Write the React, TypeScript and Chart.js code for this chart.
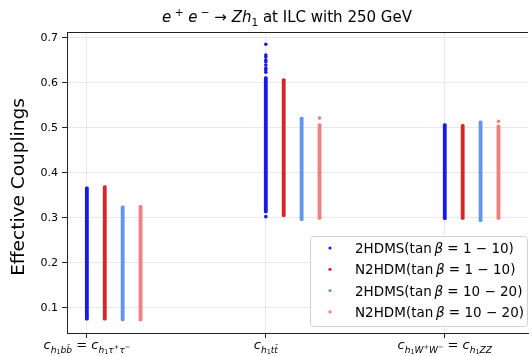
import React, { useEffect, useRef } from "react";
import { Chart, registerables } from "chart.js";

Chart.register(...registerables);

// ---------- data ----------
const categoryPositions = [0, 1, 2];
const seriesLabels = [
  "2HDMS(tanβ=1−10)",
  "N2HDM(tanβ=1−10)",
  "2HDMS(tanβ=10−20)",
  "N2HDM(tanβ=10−20)",
];
const seriesColors = ["#1a1ae6", "#d62728", "#6495ed", "#f08080"];

// vertical extent of each band of points, per category
const s2hdmsLowTan = [0.073, 0.311, 0.296];
const s2hdmsHighTan = [0.369, 0.614, 0.51];
const n2hdmLowTanMin = [0.073, 0.303, 0.297];
const n2hdmLowTanMax = [0.372, 0.61, 0.508];
const s2hdmsHighTanMin = [0.071, 0.294, 0.292];
const s2hdmsHighTanMax = [0.327, 0.524, 0.516];
const n2hdmHighTanMin = [0.071, 0.297, 0.297];
const n2hdmHighTanMax = [0.328, 0.51, 0.507];

// isolated points outside the dense bands: [category, value]
const s2hdmsLowTanIsolated: [number, number][] = [
  [1, 0.686], [1, 0.662], [1, 0.658], [1, 0.651], [1, 0.647],
  [1, 0.64], [1, 0.633], [1, 0.629], [1, 0.624], [1, 0.303],
];
const n2hdmHighTanIsolated: [number, number][] = [
  [1, 0.522], [2, 0.515],
];

const yTicks = [0.1, 0.2, 0.3, 0.4, 0.5, 0.6, 0.7];

// ---------- rich text ----------
type Seg = { t: string; s: number; dy: number; it: boolean };
const M = (t: string): Seg => ({ t, s: 1, dy: 0, it: true });
const R = (t: string): Seg => ({ t, s: 1, dy: 0, it: false });
const SB = (t: string, it = true): Seg => ({ t, s: 0.7, dy: 0.28, it });
const SS = (t: string): Seg => ({ t, s: 0.5, dy: 0.42, it: false });
const SP = (t: string): Seg => ({ t, s: 0.7, dy: -0.4, it: false });
const SBSP = (t: string): Seg => ({ t, s: 0.5, dy: 0.0, it: false });
const SPC = (w: number): Seg => ({ t: "\u2009".repeat(w), s: 1, dy: 0, it: false });

const xTickLabels: Seg[][] = [
  [M("c"), SB("h"), SS("1"), SB("b"), SB("b\u0304"), R(" = "), M("c"), SB("h"), SS("1"), SB("τ"), SBSP("+"), SB("τ"), SBSP("−")],
  [M("c"), SB("h"), SS("1"), SB("t"), SB("t\u0304")],
  [M("c"), SB("h"), SS("1"), SB("W"), SBSP("+"), SB("W"), SBSP("−"), R(" = "), M("c"), SB("h"), SS("1"), SB("Z"), SB("Z")],
];
const titleSegs: Seg[] = [M("e"), SP(" +"), M(" e"), SP(" −"), R(" → "), M("Z"), M("h"), SB("1", false), R(" at ILC with 250 GeV")];
const legendSegs: Seg[][] = [
  [R("2HDMS(tan"), SPC(1), M("β"), R(" = 1 − 10)")],
  [R("N2HDM(tan"), SPC(1), M("β"), R(" = 1 − 10)")],
  [R("2HDMS(tan"), SPC(1), M("β"), R(" = 10 − 20)")],
  [R("N2HDM(tan"), SPC(1), M("β"), R(" = 10 − 20)")],
];

const FONT = '"DejaVu Sans", sans-serif';
const fontOf = (seg: Seg, base: number) => `${seg.it ? "italic " : ""}${seg.s * base}px ${FONT}`;
function richWidth(ctx: CanvasRenderingContext2D, segs: Seg[], base: number) {
  let w = 0;
  for (const s of segs) {
    ctx.font = fontOf(s, base);
    w += ctx.measureText(s.t).width;
  }
  return w;
}
function drawRich(ctx: CanvasRenderingContext2D, segs: Seg[], x: number, y: number, base: number, align: "left" | "center", color: string) {
  const w = richWidth(ctx, segs, base);
  let cx = align === "center" ? x - w / 2 : x;
  ctx.fillStyle = color;
  ctx.textBaseline = "alphabetic";
  ctx.textAlign = "left";
  for (const s of segs) {
    ctx.font = fontOf(s, base);
    ctx.fillText(s.t, cx, y + s.dy * base);
    cx += ctx.measureText(s.t).width;
  }
}

const offsets = [0, 0.1, 0.2, 0.3];

const decorPlugin = {
  id: "decor",
  afterDraw(chart: any) {
    const ctx: CanvasRenderingContext2D = chart.ctx;
    const area = chart.chartArea;
    const xs = chart.scales.x;
    ctx.save();
    // top spine
    ctx.strokeStyle = "#222";
    ctx.lineWidth = 1;
    ctx.beginPath();
    ctx.moveTo(area.left, Math.round(area.top) + 0.5);
    ctx.lineTo(area.right, Math.round(area.top) + 0.5);
    ctx.stroke();
    // title
    drawRich(ctx, titleSegs, 287, 22, 15, "center", "#000");
    // y title
    ctx.save();
    ctx.translate(19, 187);
    ctx.rotate(-Math.PI / 2);
    ctx.font = `18.5px ${FONT}`;
    ctx.fillStyle = "#000";
    ctx.textAlign = "center";
    ctx.textBaseline = "middle";
    ctx.fillText("Effective Couplings", 0, 0);
    ctx.restore();
    // x tick labels
    categoryPositions.forEach((c, i) => {
      drawRich(ctx, xTickLabels[i], xs.getPixelForValue(c), 349, 13, "center", "#000");
    });
    // legend
    const lx = 310, ly = 236, lw = 217, lh = 90;
    ctx.fillStyle = "rgba(255,255,255,0.85)";
    ctx.strokeStyle = "#d0d0d0";
    ctx.lineWidth = 1;
    ctx.beginPath();
    (ctx as any).roundRect(lx + 0.5, ly + 0.5, lw, lh, 3);
    ctx.fill();
    ctx.stroke();
    legendSegs.forEach((segs, i) => {
      const cy = 248 + i * 21.3;
      ctx.fillStyle = seriesColors[i];
      ctx.beginPath();
      ctx.arc(330, cy, 1.6, 0, Math.PI * 2);
      ctx.fill();
      drawRich(ctx, segs, 355, cy + 5, 13.5, "left", "#000");
    });
    ctx.restore();
  },
};

export default function App() {
  const ref = useRef<HTMLCanvasElement>(null);
  useEffect(() => {
    const lows = [s2hdmsLowTan, n2hdmLowTanMin, s2hdmsHighTanMin, n2hdmHighTanMin];
    const highs = [s2hdmsHighTan, n2hdmLowTanMax, s2hdmsHighTanMax, n2hdmHighTanMax];
    const barSets = seriesLabels.map((label, si) => ({
      type: "bar" as const,
      label,
      data: categoryPositions.map((c, ci) => ({ x: c + offsets[si], y: [lows[si][ci], highs[si][ci]] })),
      backgroundColor: seriesColors[si],
      borderWidth: 0,
      borderRadius: 1.5,
      borderSkipped: false,
      barThickness: 3.2,
      grouped: false,
    }));
    const isoSets = [
      { si: 0, pts: s2hdmsLowTanIsolated },
      { si: 3, pts: n2hdmHighTanIsolated },
    ].map(({ si, pts }) => ({
      type: "scatter" as const,
      label: seriesLabels[si] + " (isolated)",
      data: pts.map(([c, v]) => ({ x: c + offsets[si], y: v })),
      backgroundColor: seriesColors[si],
      borderWidth: 0,
      pointRadius: 1.8,
    }));
    const chart = new Chart(ref.current!, {
      type: "bar",
      data: { datasets: [...barSets, ...isoSets] as any },
      options: {
        animation: false,
        responsive: false,
        layout: { padding: { top: 32, left: 0, right: 0, bottom: 0 } },
        plugins: { legend: { display: false }, title: { display: false }, tooltip: { enabled: false } },
        scales: {
          x: {
            type: "linear",
            offset: false,
            min: -0.111,
            max: 2.465,
            afterBuildTicks: (s: any) => {
              s.ticks = categoryPositions.map((v) => ({ value: v }));
            },
            afterFit: (s: any) => {
              s.height = 23;
            },
            ticks: { display: false },
            grid: { offset: false, color: "#e8e8e8", tickColor: "#222", tickLength: 5, lineWidth: 1 },
            border: { color: "#222", width: 1 },
          },
          y: {
            type: "linear",
            min: 0.0444,
            max: 0.7133,
            afterBuildTicks: (s: any) => {
              s.ticks = yTicks.map((v) => ({ value: v }));
            },
            afterFit: (s: any) => {
              s.width = 67;
            },
            ticks: {
              color: "#000",
              font: { family: "DejaVu Sans", size: 11 },
              padding: 4,
              callback: (v: any) => Number(v).toFixed(1),
            },
            grid: { color: "#e8e8e8", tickColor: "#222", tickLength: 5, lineWidth: 1 },
            border: { color: "#222", width: 1 },
          },
        },
      } as any,
      plugins: [decorPlugin],
    });
    return () => chart.destroy();
  }, []);
  return (
    <canvas
      ref={ref}
      width={532}
      height={356}
      style={{ position: "fixed", left: 0, top: 0, width: 532, height: 356 }}
    />
  );
}
